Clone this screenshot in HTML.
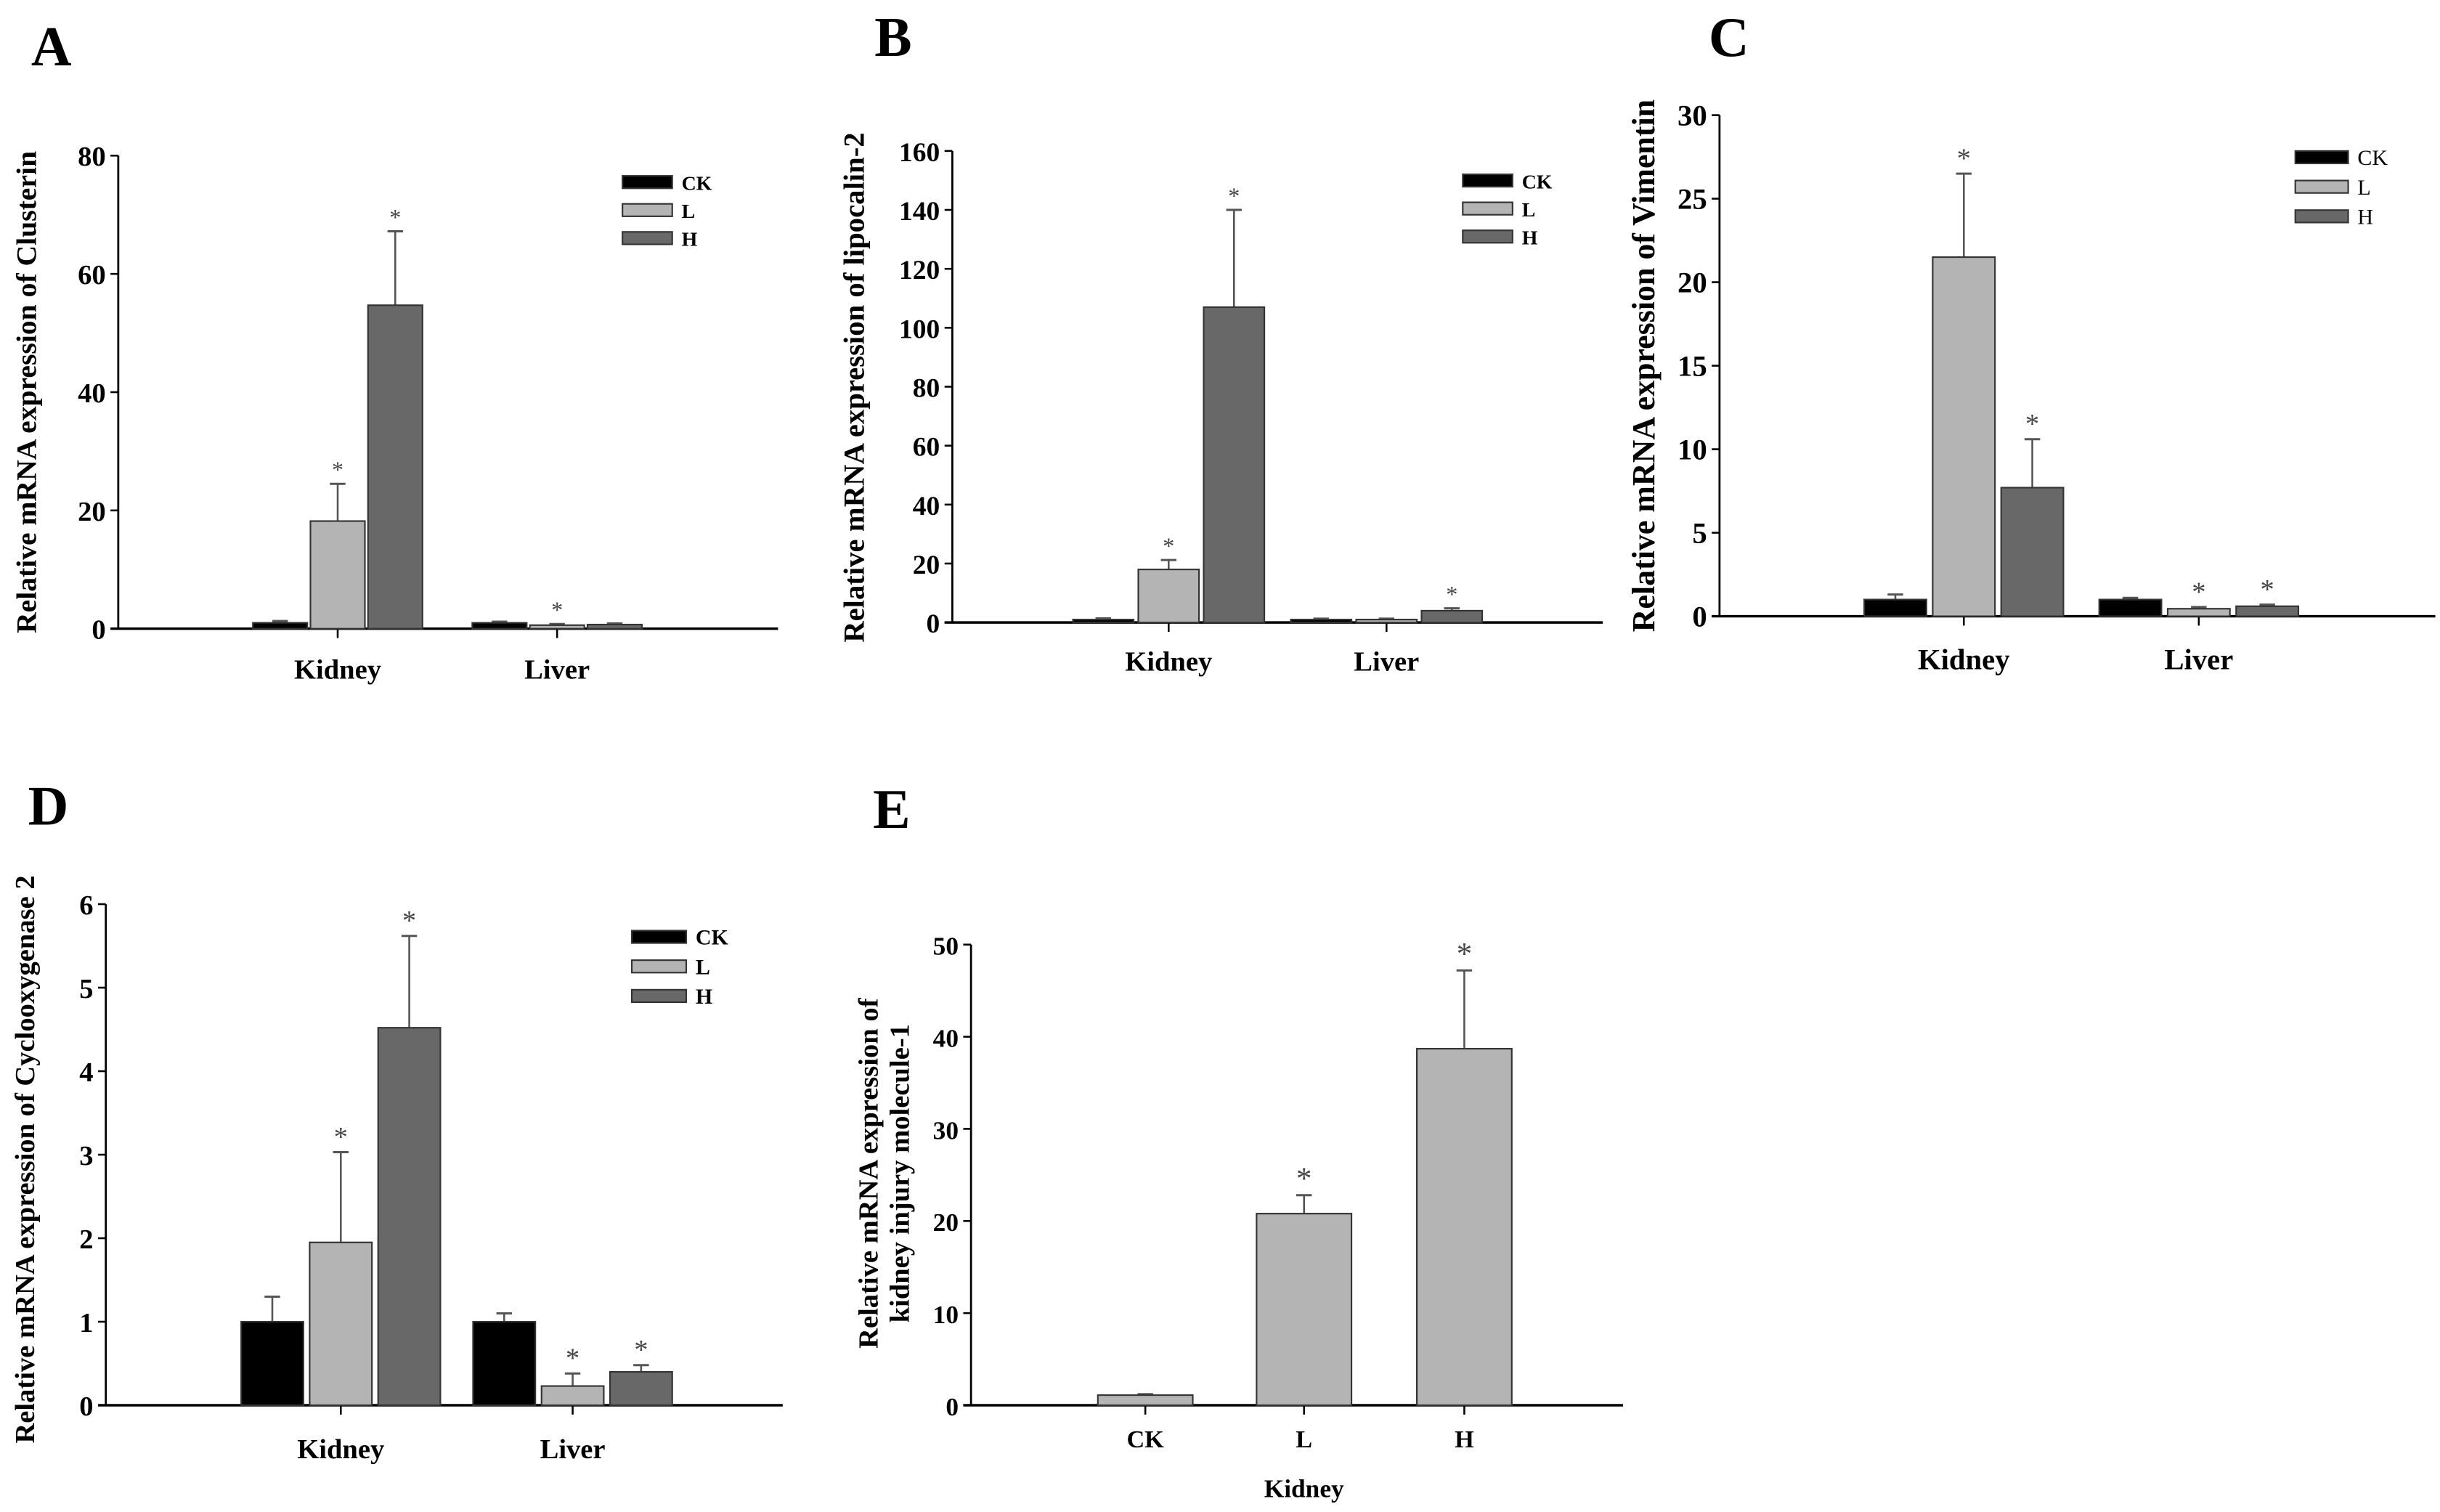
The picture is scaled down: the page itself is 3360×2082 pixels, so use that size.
<!DOCTYPE html>
<html><head><meta charset="utf-8"><style>
html,body{margin:0;padding:0;background:#fff;}
svg{display:block;}
text{font-family:"Liberation Serif",serif;}
</style></head><body>
<svg id="fig" width="3360" height="2082" viewBox="0 0 1568 971.6" xmlns="http://www.w3.org/2000/svg"></svg>
<script>
// ---- data ----
const groupsAB = ["Kidney","Liver"];
const seriesNames = ["CK","L","H"];
const A_vals = [[1,18.2,54.7],[1,0.6,0.7]];
const A_err = [[0.3,6.3,12.5],[0.2,0.2,0.2]];
const A_star = [[0,1,1],[0,1,0]];
const A_ticks = [0,20,40,60,80];
const B_vals = [[1,18,107],[1,1,4]];
const B_err = [[0.4,3.2,33],[0.3,0.3,0.8]];
const B_star = [[0,1,1],[0,0,1]];
const B_ticks = [0,20,40,60,80,100,120,140,160];
const C_vals = [[1,21.5,7.7],[1,0.45,0.6]];
const C_err = [[0.3,5,2.9],[0.1,0.1,0.1]];
const C_star = [[0,1,1],[0,1,1]];
const C_ticks = [0,5,10,15,20,25,30];
const D_vals = [[1,1.95,4.52],[1,0.23,0.4]];
const D_err = [[0.3,1.08,1.1],[0.1,0.15,0.08]];
const D_star = [[0,1,1],[0,1,1]];
const D_ticks = [0,1,2,3,4,5,6];
const E_cats = ["CK","L","H"];
const E_vals = [1.1,20.8,38.7];
const E_err = [0.1,2,8.5];
const E_star = [0,1,1];
const E_ticks = [0,10,20,30,40,50];

const NS="http://www.w3.org/2000/svg";
const svg=document.getElementById('fig');
function mk(tag,attrs,parent){const e=document.createElementNS(NS,tag);for(const k in attrs)e.setAttribute(k,attrs[k]);(parent||svg).appendChild(e);return e;}
function txt(s,x,y,size,bold,anchor,parent,rot){const t=mk('text',{x:x,y:y,'font-size':size,'font-weight':bold?'bold':'normal','text-anchor':anchor||'middle',fill:'#000'},parent);if(rot)t.setAttribute('transform','rotate(-90 '+x+' '+y+')');t.textContent=s;return t;}
const fills=["#000000","#b4b4b4","#686868"];

function panel(p){
  const g=mk('g',{});
  
  
  const ys=v=>p.bottom-v/p.ymax*(p.bottom-p.top);
  const lt=txt(p.letter,p.lx,p.ly,36,true,'start',g);
  
  
  const ya=mk('line',{x1:p.left,y1:p.top,x2:p.left,y2:p.bottom,stroke:'#000','stroke-width':1.3},g);
  
  
  const xa=mk('line',{x1:p.left-5,y1:p.bottom,x2:p.right,y2:p.bottom,stroke:'#000','stroke-width':1.6},g);
  
  
  p.ticks.forEach(t=>{
    const y=ys(t);
    mk('line',{x1:p.left-5,y1:y,x2:p.left,y2:y,stroke:'#000','stroke-width':1.2},g);
    const tl=txt(String(t),p.left-8,y+6.5,p.tickSize,true,'end',g);
    
    
  });
  p.ytitle.forEach((s,i)=>{
    const yt=txt(s,p.ytx+i*20,p.yty,p.ytSize,true,'middle',g,true);
    
    
  });
  p.groups.forEach((gname,gi)=>{
    const c=p.centers[gi];
    mk('line',{x1:c,y1:p.bottom,x2:c,y2:p.bottom+6,stroke:'#000','stroke-width':1.2},g);
    const cl=txt(gname,c,p.catY,p.catSize,true,'middle',g);
    
    
    p.vals[gi].forEach((v,si)=>{
      const n=p.vals[gi].length;
      const bx=c+(si-(n-1)/2)*p.step-p.bw/2;
      const y=ys(v);
      const ey=ys(v+p.err[gi][si]);
      const bc=bx+p.bw/2;
      mk('line',{x1:bc,y1:y,x2:bc,y2:ey,stroke:'#555','stroke-width':1.2},g);
      mk('line',{x1:bc-5,y1:ey,x2:bc+5,y2:ey,stroke:'#555','stroke-width':1.4},g);
      const r=mk('rect',{x:bx,y:y,width:p.bw,height:p.bottom-y,fill:p.single?fills[1]:fills[si],stroke:'#333','stroke-width':1},g);
      
      
      if(p.star[gi][si]){
        const st=txt('*',bc,ey-4,p.starSize,false,'middle',g);
        st.setAttribute('fill','#444');
        
        
      }
    });
  });
  if(p.legend){
    seriesNames.forEach((s,i)=>{
      const y=p.legend.y+i*p.legend.dy;
      const lr=mk('rect',{x:p.legend.x,y:y-4,width:p.legend.w,height:8,fill:fills[i],stroke:'#333','stroke-width':1},g);
      
      
      const lt2=txt(s,p.legend.x+p.legend.w+6,y+5,p.legend.size,p.legend.bold,'start',g);
      
      
    });
  }
  return g;
}

panel({id:'a',letter:'A',lx:20,ly:42,left:76,top:100,bottom:404,right:500,ymax:80,ticks:A_ticks,tickSize:18,
  ytitle:['Relative mRNA expression of Clusterin'],ytx:23,yty:252,ytSize:18.5,groups:groupsAB,centers:[217,358],catY:436,catSize:18,
  vals:A_vals,err:A_err,star:A_star,bw:35,step:37,starSize:15,legend:{x:400,y:117,dy:18,w:32,size:13,bold:true}});
panel({id:'b',letter:'B',lx:562,ly:36,left:612,top:97,bottom:400,right:1030,ymax:160,ticks:B_ticks,tickSize:17.5,
  ytitle:['Relative mRNA expression of lipocalin-2'],ytx:555,yty:249,ytSize:19,groups:groupsAB,centers:[751,891],catY:431,catSize:18,
  vals:B_vals,err:B_err,star:B_star,bw:39,step:42,starSize:15,legend:{x:940,y:116,dy:18,w:32,size:13,bold:true}});
panel({id:'c',letter:'C',lx:1098,ly:36,left:1105,top:74,bottom:396,right:1565,ymax:30,ticks:C_ticks,tickSize:19,
  ytitle:['Relative mRNA expression of Vimentin'],ytx:1063,yty:235,ytSize:20.5,groups:groupsAB,centers:[1262,1413],catY:430,catSize:19,
  vals:C_vals,err:C_err,star:C_star,bw:40,step:44,starSize:18,legend:{x:1475,y:101,dy:19,w:34,size:14,bold:false}});
panel({id:'d',letter:'D',lx:18,ly:530,left:68,top:581,bottom:903,right:503,ymax:6,ticks:D_ticks,tickSize:18,
  ytitle:['Relative mRNA expression of Cyclooxygenase 2'],ytx:22,yty:745,ytSize:18,groups:groupsAB,centers:[219,368],catY:937,catSize:18,
  vals:D_vals,err:D_err,star:D_star,bw:40,step:44,starSize:18,legend:{x:406,y:602,dy:19,w:35,size:14,bold:true}});
panel({id:'e',letter:'E',lx:561,ly:532,left:624,top:607,bottom:903,right:1043,ymax:50,ticks:E_ticks,tickSize:16.5,
  ytitle:['Relative mRNA expression of','kidney injury molecule-1'],ytx:564,yty:754,ytSize:18,groups:E_cats,centers:[736,838,941],catY:930,catSize:16,
  vals:E_vals.map(v=>[v]),err:E_err.map(v=>[v]),star:E_star.map(v=>[v]),bw:61,step:0,starSize:20,single:true,legend:null});
const kx=txt('Kidney',838,962,16.5,true,'middle');


</script>
</body></html>
